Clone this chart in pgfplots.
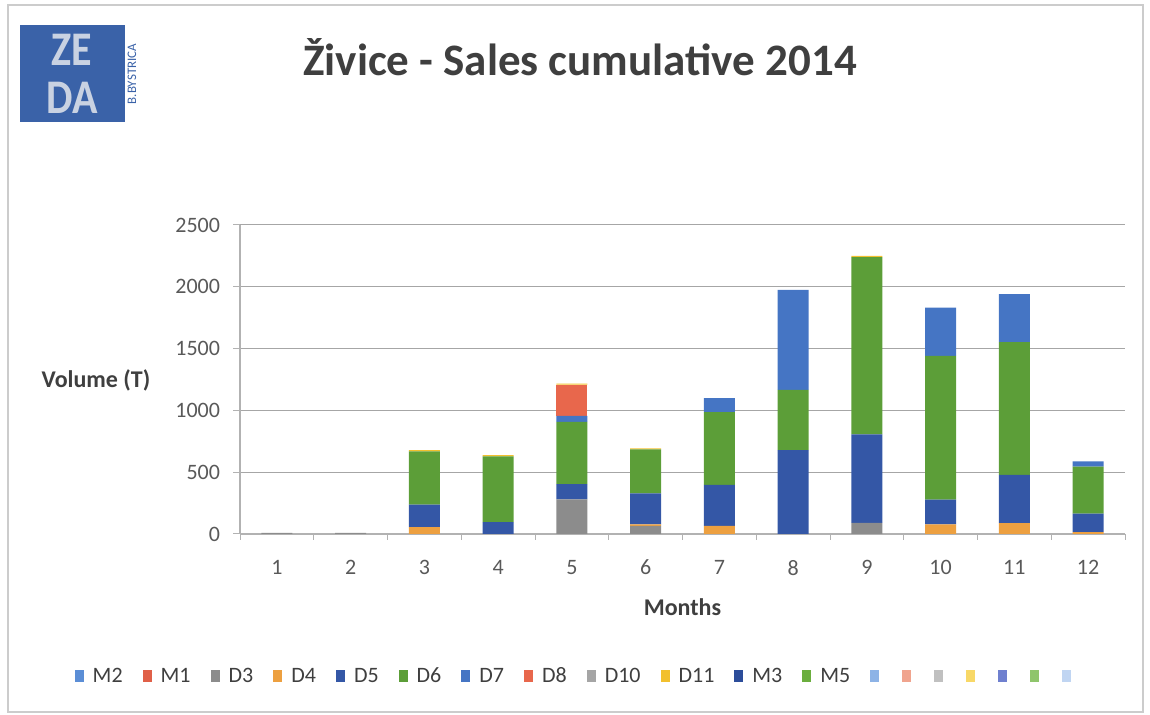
\documentclass[border=0pt]{standalone}
\usepackage{fontspec}
\setmainfont{Carlito}
\usepackage{pgfplots}
\pgfplotsset{compat=1.18}
\definecolor{cM2}{HTML}{5B8ED6}
\definecolor{cM1}{HTML}{E06048}
\definecolor{cD3}{HTML}{8C8C8C}
\definecolor{cD4}{HTML}{EDA040}
\definecolor{cD5}{HTML}{3457A6}
\definecolor{cD6}{HTML}{5C9E38}
\definecolor{cD7}{HTML}{4575C4}
\definecolor{cD8}{HTML}{E8674C}
\definecolor{cD10}{HTML}{A5A5A5}
\definecolor{cD11}{HTML}{F2C02E}
\definecolor{cM3}{HTML}{2C4D9A}
\definecolor{cM5}{HTML}{6BAE3E}
\definecolor{eA}{HTML}{8DB3E6}
\definecolor{eB}{HTML}{F0A48E}
\definecolor{eC}{HTML}{C0C0C0}
\definecolor{eD}{HTML}{F8D867}
\definecolor{eE}{HTML}{6F80CF}
\definecolor{eF}{HTML}{8FC56C}
\definecolor{eG}{HTML}{C0D5F2}
\definecolor{logoblue}{HTML}{3A62A8}
\definecolor{logoletter}{HTML}{C9D2E2}
\definecolor{titlegray}{HTML}{3F3F3F}
\definecolor{tickgray}{HTML}{595959}
\newcommand{\legtxt}[1]{\hspace{3bp}#1}
\begin{document}
\begin{tikzpicture}
\path[use as bounding box] (0bp,0bp) rectangle (575bp,357.5bp);
\draw[gray!40, line width=0.6bp] (4bp,355bp) rectangle (571.5bp,1.5bp);
% logo
\fill[logoblue] (10bp,345bp) rectangle (62.5bp,296.5bp);
\node[font=\fontsize{21bp}{21bp}\selectfont\bfseries, text=logoletter, inner sep=0pt] at (36bp,332.5bp) {\scalebox{1}[1.15]{ZE}};
\node[font=\fontsize{21bp}{21bp}\selectfont\bfseries, text=logoletter, inner sep=0pt] at (36bp,308.5bp) {\scalebox{1}[1.15]{DA}};
\node[font=\fontsize{6.5bp}{7bp}\selectfont, text=logoblue, rotate=90, inner sep=0pt] at (66bp,320.5bp) {B.BYSTRICA};
% title
\node[font=\fontsize{22.5bp}{26bp}\selectfont\bfseries, text=titlegray, anchor=base] at (290bp,319.5bp) {Živice - Sales cumulative 2014};
\begin{axis}[
  at={(120bp,90.5bp)}, anchor=south west, scale only axis,
  width=442.5bp, height=154.5bp,
  ybar stacked, bar width=15.5bp,
  xmin=0.5, xmax=12.5, ymin=0, ymax=2500,
  xtick={1,2,...,12},
  minor xtick={0.5,1.5,...,12.5},
  ytick={0,500,...,2500},
  major x tick style={draw=none},
  tick align=outside, major tick length=3.5bp, minor tick length=3bp,
  tick style={gray!60, line width=0.5bp},
  ymajorgrids, grid style={gray!70, line width=0.5bp},
  axis x line*=bottom, axis y line*=left,
  axis line style={gray!60, line width=0.6bp, -},
  /pgf/number format/assume math mode=true,
  /pgf/number format/1000 sep={},
  ticklabel style={font=\fontsize{11bp}{13bp}\selectfont, text=tickgray},
  yticklabel style={xshift=-3bp},
  xticklabel style={yshift=-6bp},
  xlabel={Months}, ylabel={Volume (T)},
  every axis x label/.style={at={(axis description cs:0.5,-0.236)}, anchor=center, font=\fontsize{12bp}{14bp}\selectfont\bfseries, text=titlegray},
  every axis y label/.style={at={(axis description cs:-0.1627,0.498)}, anchor=center, font=\fontsize{12bp}{14bp}\selectfont\bfseries, text=titlegray},
  legend columns=19,
  legend image code/.code={\fill[#1] (0bp,-3bp) rectangle (4.5bp,3bp);},
  legend style={at={(axis description cs:0.3797,-0.4595)}, anchor=center, draw=none, fill=none,
    font=\fontsize{11bp}{13bp}\selectfont, text=titlegray,
    column sep=0pt, nodes={inner xsep=1.5bp, inner ysep=1bp, text height=7.5bp, text depth=0.5bp},
    /tikz/every even column/.append style={column sep=8.5bp}},
]
\addplot[fill=cM2, draw=none] coordinates {(1,0) (2,0) (3,0) (4,0) (5,0) (6,0) (7,0) (8,0) (9,0) (10,0) (11,0) (12,0)};
\addlegendentry{\legtxt{M2}}
\addplot[fill=cM1, draw=none] coordinates {(1,0) (2,0) (3,0) (4,0) (5,0) (6,0) (7,0) (8,0) (9,0) (10,0) (11,0) (12,0)};
\addlegendentry{\legtxt{M1}}
\addplot[fill=cD3, draw=none] coordinates {(1,10) (2,10) (3,0) (4,0) (5,281) (6,65) (7,0) (8,0) (9,90) (10,0) (11,0) (12,0)};
\addlegendentry{\legtxt{D3}}
\addplot[fill=cD4, draw=none] coordinates {(1,0) (2,0) (3,55) (4,0) (5,0) (6,12) (7,66) (8,0) (9,0) (10,78) (11,88) (12,15)};
\addlegendentry{\legtxt{D4}}
\addplot[fill=cD5, draw=none] coordinates {(1,0) (2,0) (3,183) (4,96) (5,123) (6,251) (7,332) (8,678) (9,716) (10,200) (11,390) (12,149)};
\addlegendentry{\legtxt{D5}}
\addplot[fill=cD6, draw=none] coordinates {(1,0) (2,0) (3,431) (4,532) (5,503) (6,357) (7,588) (8,489) (9,1434) (10,1164) (11,1074) (12,382)};
\addlegendentry{\legtxt{D6}}
\addplot[fill=cD7, draw=none] coordinates {(1,0) (2,0) (3,0) (4,0) (5,49) (6,0) (7,114) (8,808) (9,0) (10,390) (11,388) (12,41)};
\addlegendentry{\legtxt{D7}}
\addplot[fill=cD8, draw=none] coordinates {(1,0) (2,0) (3,0) (4,0) (5,252) (6,0) (7,0) (8,0) (9,0) (10,0) (11,0) (12,0)};
\addlegendentry{\legtxt{D8}}
\addplot[fill=cD10, draw=none] coordinates {(1,0) (2,0) (3,0) (4,0) (5,0) (6,0) (7,0) (8,0) (9,0) (10,0) (11,0) (12,0)};
\addlegendentry{\legtxt{D10}}
\addplot[fill=cD11, draw=none] coordinates {(1,0) (2,0) (3,10) (4,10) (5,8) (6,8) (7,0) (8,0) (9,10) (10,0) (11,0) (12,0)};
\addlegendentry{\legtxt{D11}}
\addplot[fill=cM3, draw=none] coordinates {(1,0) (2,0) (3,0) (4,0) (5,0) (6,0) (7,0) (8,0) (9,0) (10,0) (11,0) (12,0)};
\addlegendentry{\legtxt{M3}}
\addplot[fill=cM5, draw=none] coordinates {(1,0) (2,0) (3,0) (4,0) (5,0) (6,0) (7,0) (8,0) (9,0) (10,0) (11,0) (12,0)};
\addlegendentry{\legtxt{M5}}
\addplot[fill=eA, draw=none] coordinates {(1,0) (2,0) (3,0) (4,0) (5,0) (6,0) (7,0) (8,0) (9,0) (10,0) (11,0) (12,0)};
\addlegendentry{}
\addplot[fill=eB, draw=none] coordinates {(1,0) (2,0) (3,0) (4,0) (5,0) (6,0) (7,0) (8,0) (9,0) (10,0) (11,0) (12,0)};
\addlegendentry{}
\addplot[fill=eC, draw=none] coordinates {(1,0) (2,0) (3,0) (4,0) (5,0) (6,0) (7,0) (8,0) (9,0) (10,0) (11,0) (12,0)};
\addlegendentry{}
\addplot[fill=eD, draw=none] coordinates {(1,0) (2,0) (3,0) (4,0) (5,0) (6,0) (7,0) (8,0) (9,0) (10,0) (11,0) (12,0)};
\addlegendentry{}
\addplot[fill=eE, draw=none] coordinates {(1,0) (2,0) (3,0) (4,0) (5,0) (6,0) (7,0) (8,0) (9,0) (10,0) (11,0) (12,0)};
\addlegendentry{}
\addplot[fill=eF, draw=none] coordinates {(1,0) (2,0) (3,0) (4,0) (5,0) (6,0) (7,0) (8,0) (9,0) (10,0) (11,0) (12,0)};
\addlegendentry{}
\addplot[fill=eG, draw=none] coordinates {(1,0) (2,0) (3,0) (4,0) (5,0) (6,0) (7,0) (8,0) (9,0) (10,0) (11,0) (12,0)};
\addlegendentry{}
\end{axis}
\end{tikzpicture}
\end{document}
